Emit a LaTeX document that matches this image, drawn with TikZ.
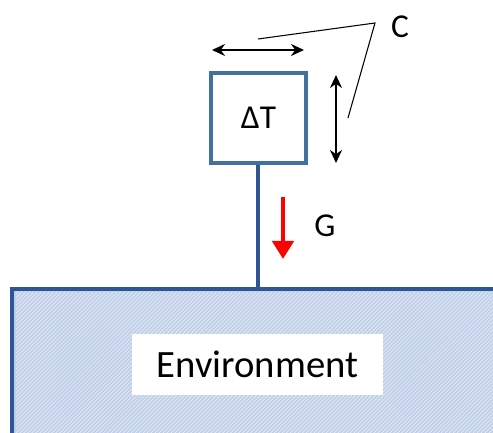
\documentclass[tikz,border=0pt]{standalone}
\usepackage{fontspec}
\setmainfont{Carlito}
\usepackage{xcolor}
\usetikzlibrary{arrows.meta, positioning, calc, patterns.meta}
\definecolor{boxblue}{HTML}{41719C}
\definecolor{stemblue}{HTML}{2F5597}
\definecolor{envfill}{HTML}{BFCFE8}
\tikzset{
  massbox/.style={draw=boxblue, line width=2.1pt, fill=white, minimum width=1.9cm, minimum height=1.8cm, font=\fontsize{19}{22}\selectfont},
  envbox/.style={draw=stemblue, line width=2.2pt, fill=envfill},
  label/.style={fill=white, minimum width=5.02cm, minimum height=1.22cm, font=\fontsize{22}{26}\selectfont},
  dim/.style={{Stealth[length=2.6mm, width=2.4mm]}-{Stealth[length=2.6mm, width=2.4mm]}, line width=1.1pt},
  flow/.style={-{Triangle[length=3.6mm, width=4.2mm]}, line width=2.6pt, red},
  tag/.style={font=\fontsize{19}{22}\selectfont}
}
\begin{document}
\begin{tikzpicture}
    \useasboundingbox (0,0) rectangle (9.86,8.66);
    \clip (0,0) rectangle (9.86,8.66);

    % Environment
    \draw[envbox] (0.24,-0.3) rectangle (10.2,2.88);
    \fill[pattern={Lines[angle=45, distance=1.6pt, line width=0.5pt]}, pattern color=white!55!envfill]
        (0.32,-0.3) rectangle (10.2,2.80);
    \coordinate (envtop) at (5.16,2.88);
    \node[label] (env) at (5.15,1.37) {Environment};

    % Body
    \node[massbox] (body) at (5.17,6.30) {ΔT};
    \draw[stemblue, line width=2.6pt] (body.south -| envtop) -- (envtop);

    % Dimensions
    \coordinate (hl) at (4.24,7.66);
    \coordinate (hr) at (6.08,7.66);
    \coordinate (vt) at (6.72,7.16);
    \coordinate (vb) at (6.72,5.40);
    \draw[dim] (hl) -- (hr);
    \draw[dim] (vt) -- (vb);

    % Conductance
    \node[tag] (C) at (8.00,8.12) {C};
    \coordinate (apex) at (7.50,8.20);
    \draw[line width=0.6pt] (5.16,7.88) -- (apex) -- (6.96,6.30);

    % Gravity
    \coordinate (gtop) at (5.66,4.72);
    \coordinate (gbot) at (5.66,3.48);
    \draw[flow] (gtop) -- (gbot);
    \node[tag] (G) at (6.50,4.14) {G};
\end{tikzpicture}
\end{document}
